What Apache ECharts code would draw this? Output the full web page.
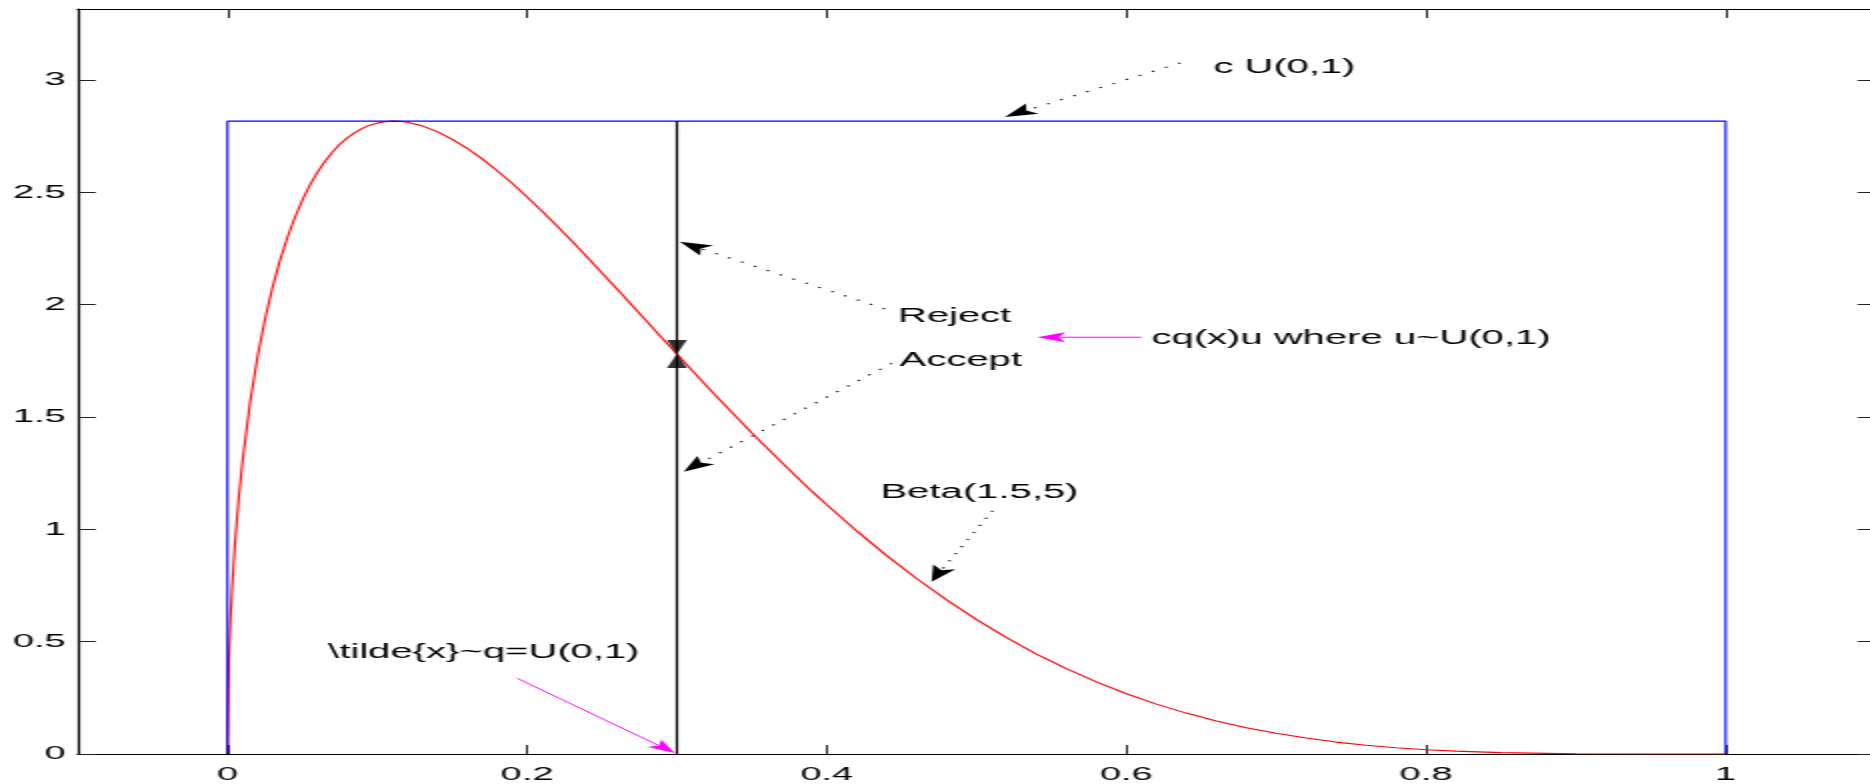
<!DOCTYPE html>
<html>
<head>
<meta charset="utf-8">
<script src="https://cdn.jsdelivr.net/npm/echarts@6/dist/echarts.min.js"></script>
<style>
html,body{margin:0;padding:0;background:#fff;overflow:hidden;width:1870px;height:784px;}
#wrap{width:940px;height:784px;transform:scaleX(2);transform-origin:0 0;}
</style>
</head>
<body>
<div id="wrap"></div>
<script>
// ---- data ----
const xTicks = [0, 0.2, 0.4, 0.6, 0.8, 1];
const yTicks = [0, 0.5, 1, 1.5, 2, 2.5, 3];

// Beta(1.5,5) density (red curve)
const redX = [0, 0.001, 0.002, 0.003, 0.005, 0.0075, 0.01, 0.015, 0.02, 0.025, 0.03, 0.035, 0.04, 0.045, 0.05, 0.055, 0.06, 0.065, 0.07, 0.075, 0.08, 0.085, 0.09, 0.095, 0.10, 0.105, 0.11, 0.115, 0.12, 0.13, 0.14, 0.15, 0.16, 0.17, 0.18, 0.19, 0.20, 0.21, 0.22, 0.23, 0.24, 0.25, 0.26, 0.27, 0.28, 0.29, 0.30, 0.31, 0.32, 0.33, 0.34, 0.35, 0.36, 0.37, 0.38, 0.39, 0.40, 0.42, 0.44, 0.46, 0.48, 0.50, 0.52, 0.54, 0.56, 0.58, 0.60, 0.62, 0.64, 0.66, 0.68, 0.70, 0.72, 0.74, 0.76, 0.78, 0.80, 0.82, 0.85, 0.88, 0.90, 0.95, 1.0];
const redY = [0, 0.426, 0.601, 0.733, 0.938, 1.137, 1.300, 1.561, 1.766, 1.934, 2.075, 2.196, 2.299, 2.388, 2.465, 2.532, 2.589, 2.637, 2.679, 2.714, 2.743, 2.766, 2.785, 2.799, 2.808, 2.814, 2.817, 2.816, 2.812, 2.796, 2.770, 2.736, 2.696, 2.649, 2.596, 2.540, 2.479, 2.416, 2.350, 2.282, 2.212, 2.141, 2.070, 1.997, 1.925, 1.852, 1.780, 1.708, 1.637, 1.567, 1.498, 1.429, 1.363, 1.297, 1.233, 1.170, 1.109, 0.993, 0.883, 0.781, 0.686, 0.598, 0.518, 0.445, 0.380, 0.321, 0.268, 0.222, 0.182, 0.147, 0.117, 0.092, 0.071, 0.053, 0.039, 0.028, 0.019, 0.013, 0.006, 0.003, 0.001, 0, 0];

// c * U(0,1) envelope (blue)
const blueX = [0, 0, 1, 1];
const blueY = [0, 2.817, 2.817, 0];

// sampled x~ = 0.3 (black vertical line)
const blackX = [0.3, 0.3];
const blackY = [0, 2.817];

// point c q(x) u on the curve (triangles)
const markerPoint = [0.3, 1.78];

// annotation arrows: tail x, tail y, tip x, tip y, kind (0 dotted black, 1 magenta)
const arrowTailX = [0.636, 0.4388, 0.4433, 0.5107, 0.610, 0.1933];
const arrowTailY = [3.076, 1.981, 1.739, 1.083, 1.855, 0.337];
const arrowTipX  = [0.519, 0.302, 0.3046, 0.470, 0.5405, 0.2986];
const arrowTipY  = [2.835, 2.280, 1.2565, 0.767, 1.855, 0.004];
const arrowKind  = [0, 0, 0, 0, 1, 1];

// annotation texts
const annLabels = ["c U(0,1)", "Reject", "Accept", "Beta(1.5,5)", "cq(x)u where u~U(0,1)", "\\tilde{x}~q=U(0,1)"];
const annX = [0.658, 0.4475, 0.4487, 0.4359, 0.6168, 0.0672];
const annY = [3.055, 1.946, 1.753, 1.1646, 1.849, 0.4527];

// ---- chart ----
const zip = (a, b) => a.map((v, i) => [v, b[i]]);
const FONT = "'Liberation Sans', Arial, Helvetica, sans-serif";

const chart = echarts.init(document.getElementById('wrap'), null, {renderer: 'canvas'});

const axisLineStyle = {color: '#000', width: 1.2};
const tickStyle = {color: '#222', width: 1};

const option = {
  animation: false,
  backgroundColor: '#fff',
  grid: {left: 38.85, right: 2.25, top: 9, bottom: 30, containLabel: false},
  xAxis: [
    {
      type: 'value', min: -0.1, max: 1.1, position: 'bottom',
      axisLine: {show: true, onZero: false, lineStyle: axisLineStyle},
      axisTick: {show: true, inside: true, length: 9, customValues: xTicks, lineStyle: tickStyle},
      axisLabel: {show: true, customValues: xTicks, margin: 11, color: '#000', fontSize: 19, fontFamily: FONT},
      splitLine: {show: false}
    },
    {
      type: 'value', min: -0.1, max: 1.1, position: 'top',
      axisLine: {show: true, onZero: false, lineStyle: axisLineStyle},
      axisTick: {show: true, inside: true, length: 9, customValues: xTicks, lineStyle: tickStyle},
      axisLabel: {show: false},
      splitLine: {show: false}
    }
  ],
  yAxis: [
    {
      type: 'value', min: 0, max: 3.316, position: 'left',
      axisLine: {show: true, onZero: false, lineStyle: axisLineStyle},
      axisTick: {show: true, inside: true, length: 9, customValues: yTicks, lineStyle: tickStyle},
      axisLabel: {show: true, customValues: yTicks, margin: 6, color: '#000', fontSize: 19, fontFamily: FONT},
      splitLine: {show: false}
    },
    {
      type: 'value', min: 0, max: 3.316, position: 'right',
      axisLine: {show: true, onZero: false, lineStyle: axisLineStyle},
      axisTick: {show: true, inside: true, length: 9, customValues: yTicks, lineStyle: tickStyle},
      axisLabel: {show: false},
      splitLine: {show: false}
    }
  ],
  series: [
    {
      name: 'Beta(1.5,5)', type: 'line', xAxisIndex: 0, yAxisIndex: 0,
      data: zip(redX, redY), showSymbol: false, symbol: 'none', smooth: false,
      lineStyle: {color: '#ff0000', width: 1.1}, z: 2
    },
    {
      name: 'c U(0,1)', type: 'line', xAxisIndex: 0, yAxisIndex: 0,
      data: zip(blueX, blueY), showSymbol: false, symbol: 'none',
      lineStyle: {color: '#0000ff', width: 1.1}, z: 3
    },
    {
      name: 'x', type: 'line', xAxisIndex: 0, yAxisIndex: 0,
      data: zip(blackX, blackY), showSymbol: false, symbol: 'none',
      lineStyle: {color: '#000', width: 1.2}, z: 4
    },
    {
      name: 'down', type: 'scatter', xAxisIndex: 0, yAxisIndex: 0,
      data: [markerPoint], symbol: 'triangle', symbolSize: [10, 14], symbolRotate: 180,
      symbolOffset: [0, -7], itemStyle: {color: '#000'}, z: 6
    },
    {
      name: 'up', type: 'scatter', xAxisIndex: 0, yAxisIndex: 0,
      data: [markerPoint], symbol: 'triangle', symbolSize: [10, 14],
      symbolOffset: [0, 7], itemStyle: {color: '#000'}, z: 6
    },
    {
      name: 'arrows', type: 'custom', xAxisIndex: 0, yAxisIndex: 0, z: 7,
      encode: {x: [0, 2], y: [1, 3]},
      data: arrowTailX.map((v, i) => [v, arrowTailY[i], arrowTipX[i], arrowTipY[i], arrowKind[i]]),
      renderItem: function (params, api) {
        const p1 = api.coord([api.value(0), api.value(1)]);
        const p2 = api.coord([api.value(2), api.value(3)]);
        const kind = api.value(4);
        const color = kind === 1 ? '#ff00ff' : '#000';
        const L = kind === 1 ? 14 : 16;
        const hw = kind === 1 ? 5 : 6;
        const dx = p2[0] - p1[0], dy = p2[1] - p1[1];
        const len = Math.sqrt(dx * dx + dy * dy) || 1;
        const ux = dx / len, uy = dy / len;
        const px = -uy, py = ux;
        const bx = p2[0] - ux * L, by = p2[1] - uy * L;
        const nx = p2[0] - ux * L * 0.78, ny = p2[1] - uy * L * 0.78;
        return {
          type: 'group',
          children: [
            {
              type: 'line',
              shape: {x1: p1[0], y1: p1[1], x2: nx, y2: ny},
              style: kind === 1
                ? {stroke: color, lineWidth: 1}
                : {stroke: color, lineWidth: 1.2, lineDash: [1.2, 6.5]}
            },
            {
              type: 'polygon',
              shape: {points: [[p2[0], p2[1]], [bx + px * hw, by + py * hw], [nx, ny], [bx - px * hw, by - py * hw]]},
              style: {fill: color}
            }
          ]
        };
      }
    },
    {
      name: 'labels', type: 'custom', xAxisIndex: 0, yAxisIndex: 0, z: 8,
      encode: {x: 0, y: 1},
      data: annX.map((v, i) => [v, annY[i], i]),
      renderItem: function (params, api) {
        const p = api.coord([api.value(0), api.value(1)]);
        return {
          type: 'text',
          x: p[0], y: p[1],
          style: {
            text: annLabels[api.value(2)],
            fill: '#000',
            fontSize: 20,
            fontFamily: FONT,
            align: 'left',
            verticalAlign: 'middle'
          }
        };
      }
    }
  ]
};

chart.setOption(option);
</script>
</body>
</html>
